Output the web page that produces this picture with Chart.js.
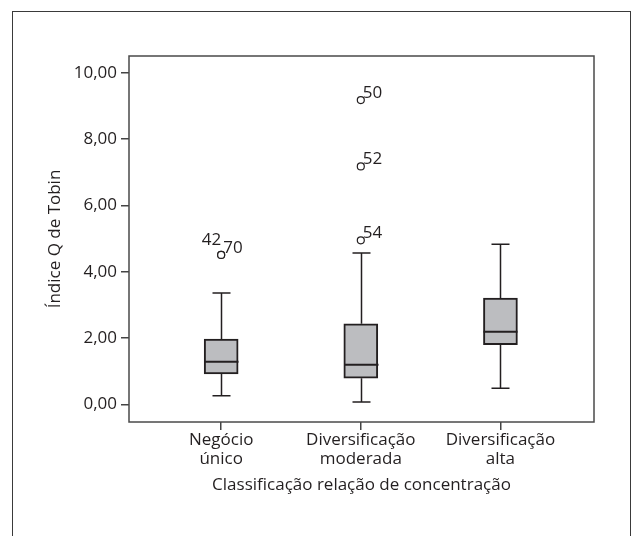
<!DOCTYPE html>
<html>
<head>
<meta charset="utf-8">
<script src="https://cdn.jsdelivr.net/npm/chart.js@4"></script>
<style>
  html, body { margin: 0; padding: 0; background: #fff; }
  #wrap { width: 632px; height: 536px; }
</style>
</head>
<body>
<div id="wrap"><canvas id="boxChart" width="632" height="536"></canvas></div>
<script>
  // boxplot data
  const categories = [['Negócio', 'único'], ['Diversificação', 'moderada'], ['Diversificação', 'alta']];
  const whiskerLow = [0.26, 0.07, 0.49];
  const q1 = [0.92, 0.79, 1.80];
  const median = [1.29, 1.20, 2.19];
  const q3 = [1.97, 2.43, 3.21];
  const whiskerHigh = [3.36, 4.57, 4.83];

  // outliers (group index is 1-based)
  const outlierGroup = [1, 1, 2, 2, 2];
  const outlierValues = [4.51, 4.51, 4.95, 7.18, 9.18];
  const outlierLabels = ['42', '70', '54', '52', '50'];
  const outlierSide = ['left', 'right', 'right', 'right', 'right'];

  const yTicks = [0, 2, 4, 6, 8, 10];

  const ink = '#231f20';
  const fontFam = '"Open Sans", "Noto Sans", sans-serif';

  // outer frame + plot border
  const framePlugin = {
    id: 'frame',
    beforeDraw(chart) {
      const ctx = chart.ctx;
      ctx.save();
      ctx.strokeStyle = '#3a3a3a';
      ctx.lineWidth = 1;
      ctx.strokeRect(12.5, 11.5, 618, 560);
      ctx.restore();
    },
    afterDraw(chart) {
      const a = chart.chartArea;
      const ctx = chart.ctx;
      ctx.save();
      ctx.strokeStyle = '#4a4a4a';
      ctx.lineWidth = 1.5;
      ctx.strokeRect(a.left, a.top, a.right - a.left, a.bottom - a.top);
      ctx.restore();
    }
  };

  // whiskers, caps, medians, outlier labels
  const boxPlugin = {
    id: 'boxExtras',
    afterDatasetsDraw(chart) {
      const x = chart.scales.x, y = chart.scales.y;
      const ctx = chart.ctx;
      ctx.save();
      ctx.strokeStyle = ink;
      for (let i = 0; i < categories.length; i++) {
        const cx = Math.round(x.getPixelForValue(i + 1)) + 0.5;
        ctx.lineWidth = 1.5;
        ctx.beginPath();
        ctx.moveTo(cx, y.getPixelForValue(whiskerLow[i]));
        ctx.lineTo(cx, y.getPixelForValue(q1[i]));
        ctx.moveTo(cx, y.getPixelForValue(q3[i]));
        ctx.lineTo(cx, y.getPixelForValue(whiskerHigh[i]));
        // caps
        ctx.moveTo(cx - 9, y.getPixelForValue(whiskerLow[i]));
        ctx.lineTo(cx + 9, y.getPixelForValue(whiskerLow[i]));
        ctx.moveTo(cx - 9, y.getPixelForValue(whiskerHigh[i]));
        ctx.lineTo(cx + 9, y.getPixelForValue(whiskerHigh[i]));
        ctx.stroke();
        // median
        ctx.lineWidth = 2;
        ctx.beginPath();
        ctx.moveTo(cx - 17, y.getPixelForValue(median[i]));
        ctx.lineTo(cx + 17, y.getPixelForValue(median[i]));
        ctx.stroke();
      }
      ctx.fillStyle = ink;
      ctx.font = '17px ' + fontFam;
      ctx.textBaseline = 'alphabetic';
      for (let k = 0; k < outlierValues.length; k++) {
        const px = x.getPixelForValue(outlierGroup[k]);
        const py = y.getPixelForValue(outlierValues[k]);
        if (outlierSide[k] === 'left') {
          ctx.textAlign = 'right';
          ctx.fillText(outlierLabels[k], px, py - 10);
        } else {
          ctx.textAlign = 'left';
          ctx.fillText(outlierLabels[k], px + 2, py - 2);
        }
      }
      ctx.restore();
    }
  };

  const boxData = categories.map((c, i) => ({ x: i + 1, y: [q1[i], q3[i]] }));
  const outlierData = outlierValues.map((v, k) => ({ x: outlierGroup[k], y: v }));

  const config = {
    type: 'bar',
    data: {
      datasets: [{
        label: 'box',
        data: boxData,
        backgroundColor: '#bcbdc0',
        borderColor: ink,
        borderWidth: 2,
        borderSkipped: false,
        barThickness: 34
      }, {
        type: 'scatter',
        label: 'outliers',
        data: outlierData,
        showLine: false,
        pointStyle: 'circle',
        pointRadius: 3.5,
        pointBackgroundColor: '#fff',
        pointBorderColor: ink,
        pointBorderWidth: 1.2
      }]
    },
    options: {
      responsive: false,
      animation: false,
      layout: { padding: { left: 0, top: 56, right: 38, bottom: 0 } },
      plugins: { legend: { display: false }, tooltip: { enabled: false } },
      scales: {
        x: {
          type: 'linear',
          min: 0.34,
          max: 3.67,
          offset: false,
          afterBuildTicks: (s) => { s.ticks = categories.map((c, i) => ({ value: i + 1 })); },
          afterFit: (s) => { s.height = 114; },
          ticks: {
            callback: (v) => categories[v - 1],
            color: ink,
            font: { family: fontFam, size: 17, lineHeight: 1.1 },
            padding: 1,
            maxRotation: 0,
            autoSkip: false
          },
          grid: { offset: false, drawOnChartArea: false, drawTicks: true, tickLength: 8, tickColor: '#444', lineWidth: 1.5 },
          border: { display: false },
          title: {
            display: true,
            text: 'Classificação relação de concentração',
            color: ink,
            font: { family: fontFam, size: 17 },
            padding: { top: 0, bottom: 41 }
          }
        },
        y: {
          min: -0.53,
          max: 10.51,
          afterBuildTicks: (s) => { s.ticks = yTicks.map(v => ({ value: v })); },
          afterFit: (s) => { s.width = 129; },
          ticks: {
            callback: (v) => v.toFixed(2).replace('.', ','),
            color: ink,
            font: { family: fontFam, size: 17 },
            padding: 4
          },
          grid: { drawOnChartArea: false, drawTicks: true, tickLength: 8, tickColor: '#444', lineWidth: 1.5 },
          border: { display: false },
          title: {
            display: true,
            text: 'Índice Q de Tobin',
            color: ink,
            font: { family: fontFam, size: 17 },
            padding: { top: 45, bottom: 0 }
          }
        }
      }
    },
    plugins: [framePlugin, boxPlugin]
  };

  const boxChart = new Chart(document.getElementById('boxChart'), config);
</script>
</body>
</html>
